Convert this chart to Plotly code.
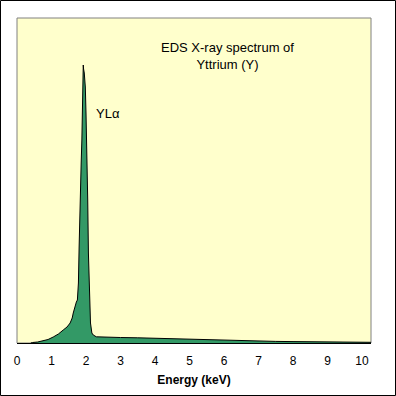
import plotly.graph_objects as go

# Energy (keV) and intensity (arbitrary counts)
energy_kev = [0.40, 0.45, 0.60, 0.76, 0.90, 1.05, 1.20, 1.34, 1.45, 1.54, 1.60, 1.63, 1.68,
              1.72, 1.75, 1.78, 1.80, 1.83, 1.86, 1.88, 1.90, 1.91, 1.92, 1.93, 1.95,
              1.97, 1.98, 2.00, 2.02, 2.05, 2.07, 2.10, 2.13, 2.17, 2.21, 2.30, 2.50,
              3.00, 3.50, 4.00, 4.50, 5.00, 5.50, 6.00, 6.50, 7.00, 7.50, 8.00, 8.50,
              9.00, 9.50, 10.00, 10.26]
counts = [0, 5, 10, 20, 35, 60, 90, 130, 160, 200, 250, 300, 380,
          410, 430, 600, 960, 1560, 1800, 2030, 2400, 2560, 2780, 2740, 2700,
          2600, 2560, 2300, 2030, 1430, 900, 500, 200, 100, 80, 62, 58,
          55, 52, 47, 42, 36, 31, 26, 23, 19, 16, 14, 12,
          10, 9, 8, 7]

x_ticks = [0, 1, 2, 3, 4, 5, 6, 7, 8, 9, 10]

FONT = "Arial, Liberation Sans, sans-serif"

fig = go.Figure()
fig.add_trace(go.Scatter(
    x=energy_kev, y=counts, mode="lines",
    line=dict(color="black", width=1),
    fill="tozeroy", fillcolor="#339966",
    hoverinfo="skip", showlegend=False,
))

L, R, T, B = 17, 25, 18, 53
W = H = 396
pw, ph = W - L - R, H - T - B

fig.update_layout(
    width=W, height=H,
    margin=dict(l=L, r=R, t=T, b=B),
    paper_bgcolor="white",
    plot_bgcolor="#FFFFCC",
    font=dict(family=FONT, size=11, color="black"),
    xaxis=dict(
        range=[0, 10.26], tickvals=x_ticks, ticktext=[str(v) for v in x_ticks],
        showgrid=False, zeroline=False,
        showline=True, linecolor="black", linewidth=1,
        ticks="outside", ticklen=7, tickcolor="rgba(0,0,0,0)",
        tickfont=dict(family=FONT, size=12),
        title=dict(text="<b>Energy (keV)</b>", font=dict(family=FONT, size=12), standoff=8),
    ),
    yaxis=dict(range=[0, 3250], visible=False, showgrid=False, zeroline=False),
    shapes=[
        dict(type="rect", xref="paper", yref="paper", x0=0, x1=1, y0=0, y1=1,
             line=dict(color="#808080", width=1), layer="below"),
        dict(type="rect", xref="paper", yref="paper",
             x0=(0.5 - L) / pw, x1=(W - 0.5 - L) / pw,
             y0=(H - B - (H - 0.5)) / ph, y1=(H - B - 0.5) / ph,
             line=dict(color="black", width=1)),
    ],
    annotations=[
        dict(text="EDS X-ray spectrum of<br>Yttrium (Y)", xref="paper", yref="paper",
             x=(227.5 - L) / pw, y=(H - B - 56) / ph, xanchor="center", yanchor="middle",
             showarrow=False, font=dict(family=FONT, size=13)),
        dict(text="YLα", x=2.22, y=(343 - 113) * 10, xanchor="left", yanchor="middle",
             showarrow=False, font=dict(family=FONT, size=13)),
    ],
)

fig.write_html("out.html", config={"displayModeBar": False},
               post_script="document.body.style.margin='0';document.body.style.overflow='hidden';")
